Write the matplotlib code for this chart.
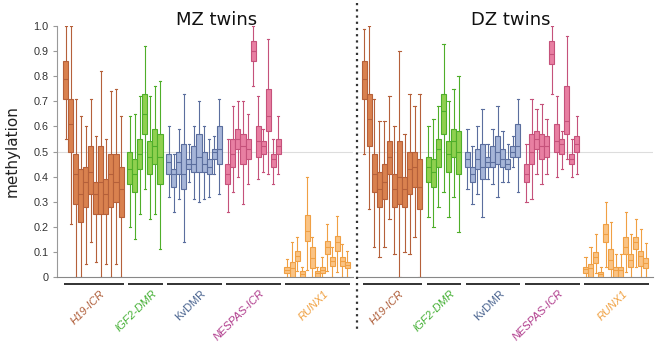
import matplotlib
matplotlib.use('Agg')
import matplotlib.pyplot as plt
from matplotlib.lines import Line2D

# box stats per CpG site: (whisker low, q1, median, q3, whisker high)
genes = ['H19-ICR', 'IGF2-DMR', 'KvDMR', 'NESPAS-ICR', 'RUNX1']
panel_titles = ['MZ twins', 'DZ twins']

mz_h19 = [[0.55, 0.71, 0.79, 0.86, 1.00], [0.21, 0.50, 0.61, 0.71, 1.00], [0.00, 0.29, 0.41, 0.49, 0.71],
          [0.00, 0.22, 0.33, 0.43, 0.64], [0.05, 0.28, 0.38, 0.44, 0.60], [0.14, 0.33, 0.42, 0.52, 0.71],
          [0.06, 0.25, 0.33, 0.38, 0.56], [0.00, 0.25, 0.38, 0.52, 0.82], [0.05, 0.25, 0.33, 0.39, 0.55],
          [0.00, 0.28, 0.41, 0.49, 0.74], [0.05, 0.30, 0.38, 0.49, 0.75], [0.00, 0.24, 0.35, 0.44, 0.64]]
mz_igf2 = [[0.20, 0.37, 0.43, 0.50, 0.64], [0.15, 0.34, 0.41, 0.47, 0.65], [0.25, 0.43, 0.49, 0.55, 0.72],
           [0.35, 0.57, 0.65, 0.73, 0.92], [0.23, 0.41, 0.48, 0.54, 0.72], [0.25, 0.45, 0.52, 0.59, 0.76],
           [0.11, 0.37, 0.48, 0.57, 0.78]]
mz_kv = [[0.32, 0.41, 0.46, 0.49, 0.60], [0.26, 0.36, 0.41, 0.43, 0.49], [0.31, 0.41, 0.46, 0.50, 0.59],
         [0.14, 0.35, 0.41, 0.53, 0.73], [0.38, 0.43, 0.45, 0.47, 0.53], [0.31, 0.42, 0.45, 0.52, 0.60],
         [0.30, 0.42, 0.48, 0.57, 0.70], [0.31, 0.42, 0.45, 0.50, 0.60], [0.32, 0.41, 0.44, 0.47, 0.55],
         [0.41, 0.47, 0.50, 0.51, 0.56], [0.33, 0.45, 0.51, 0.60, 0.71]]
mz_nes = [[0.26, 0.37, 0.41, 0.45, 0.55], [0.34, 0.44, 0.49, 0.55, 0.68], [0.40, 0.51, 0.55, 0.59, 0.70],
          [0.29, 0.45, 0.52, 0.57, 0.70], [0.37, 0.47, 0.51, 0.55, 0.65], [0.76, 0.86, 0.90, 0.94, 1.00],
          [0.39, 0.48, 0.54, 0.60, 0.72], [0.42, 0.49, 0.52, 0.54, 0.59], [0.41, 0.58, 0.64, 0.75, 0.95],
          [0.37, 0.44, 0.47, 0.49, 0.55], [0.41, 0.49, 0.52, 0.55, 0.64]]
mz_runx = [[0.00, 0.015, 0.028, 0.041, 0.072], [0.00, 0.00, 0.035, 0.061, 0.14], [0.024, 0.064, 0.084, 0.104, 0.16],
           [0.00, 0.00, 0.012, 0.024, 0.041], [0.028, 0.143, 0.183, 0.247, 0.40], [0.00, 0.037, 0.077, 0.121, 0.16],
           [0.00, 0.00, 0.015, 0.024, 0.041], [0.00, 0.015, 0.028, 0.041, 0.081], [0.024, 0.092, 0.118, 0.143, 0.21],
           [0.00, 0.044, 0.064, 0.081, 0.121], [0.021, 0.104, 0.141, 0.163, 0.243], [0.00, 0.042, 0.062, 0.081, 0.13],
           [0.00, 0.035, 0.046, 0.061, 0.105]]

dz_h19 = [[0.49, 0.71, 0.79, 0.86, 0.99], [0.27, 0.52, 0.63, 0.73, 1.00], [0.12, 0.34, 0.41, 0.49, 0.71],
          [0.08, 0.28, 0.35, 0.42, 0.62], [0.12, 0.31, 0.38, 0.45, 0.62], [0.23, 0.41, 0.48, 0.54, 0.72],
          [0.09, 0.28, 0.35, 0.41, 0.60], [0.00, 0.29, 0.40, 0.54, 0.90], [0.10, 0.28, 0.35, 0.40, 0.57],
          [0.09, 0.33, 0.43, 0.50, 0.73], [0.16, 0.36, 0.44, 0.50, 0.68], [0.00, 0.27, 0.36, 0.47, 0.73]]
dz_igf2 = [[0.24, 0.38, 0.44, 0.48, 0.60], [0.20, 0.36, 0.42, 0.47, 0.63], [0.28, 0.44, 0.51, 0.55, 0.68],
           [0.34, 0.57, 0.66, 0.73, 0.93], [0.24, 0.42, 0.49, 0.54, 0.70], [0.32, 0.48, 0.54, 0.59, 0.75],
           [0.18, 0.41, 0.50, 0.58, 0.80]]
dz_kv = [[0.35, 0.44, 0.47, 0.50, 0.59], [0.29, 0.38, 0.41, 0.44, 0.52], [0.33, 0.43, 0.47, 0.51, 0.60],
         [0.24, 0.39, 0.44, 0.53, 0.67], [0.39, 0.44, 0.46, 0.48, 0.53], [0.37, 0.44, 0.46, 0.52, 0.59],
         [0.32, 0.45, 0.50, 0.56, 0.68], [0.38, 0.44, 0.47, 0.51, 0.58], [0.38, 0.43, 0.45, 0.47, 0.53],
         [0.44, 0.48, 0.50, 0.52, 0.56], [0.34, 0.48, 0.52, 0.61, 0.71]]
dz_nes = [[0.30, 0.38, 0.41, 0.45, 0.53], [0.31, 0.45, 0.50, 0.57, 0.71], [0.41, 0.51, 0.55, 0.58, 0.67],
          [0.37, 0.47, 0.52, 0.57, 0.69], [0.41, 0.48, 0.52, 0.56, 0.63], [0.73, 0.85, 0.89, 0.94, 1.00],
          [0.40, 0.50, 0.54, 0.61, 0.72], [0.43, 0.49, 0.53, 0.55, 0.58], [0.47, 0.57, 0.62, 0.76, 0.96],
          [0.40, 0.45, 0.47, 0.49, 0.55], [0.41, 0.50, 0.53, 0.56, 0.64]]
dz_runx = [[0.00, 0.015, 0.03, 0.041, 0.081], [0.00, 0.00, 0.035, 0.05, 0.121], [0.015, 0.054, 0.081, 0.10, 0.17],
           [0.00, 0.00, 0.01, 0.02, 0.041], [0.04, 0.141, 0.17, 0.21, 0.30], [0.00, 0.033, 0.066, 0.11, 0.22],
           [0.00, 0.00, 0.027, 0.04, 0.09], [0.00, 0.00, 0.027, 0.04, 0.09], [0.02, 0.09, 0.12, 0.16, 0.26],
           [0.00, 0.04, 0.066, 0.09, 0.17], [0.04, 0.11, 0.14, 0.16, 0.23], [0.00, 0.044, 0.084, 0.104, 0.19],
           [0.00, 0.034, 0.054, 0.074, 0.134]]

face_cols = ['#d9814f', '#8fd04f', '#a6b5d8', '#e87fa2', '#fac384']
edge_cols = ['#b5603a', '#4fae2a', '#5b6e9e', '#c5527b', '#f0a044']
label_cols = ['#b0603c', '#45b035', '#4a6490', '#b03b8c', '#f0a040']
label_italic = [True, True, False, True, True]

panels = [[mz_h19, mz_igf2, mz_kv, mz_nes, mz_runx],
          [dz_h19, dz_igf2, dz_kv, dz_nes, dz_runx]]

W, H = 660, 345
fig = plt.figure(figsize=(6.6, 3.45), dpi=100)
plt.rcParams['font.family'] = ['DejaVu Sans']


def px_axes(x0, x1, ytop, ybot):
    return fig.add_axes([x0 / W, 1 - ybot / H, (x1 - x0) / W, (ybot - ytop) / H])


axL = px_axes(57, 353, 26, 277)
axR = px_axes(358, 653, 26, 277)
gap = 1.75

for p, ax in enumerate([axL, axR]):
    pos = 0.0
    for g, rows in enumerate(panels[p]):
        start = pos
        for i, r in enumerate(rows):
            st = dict(whislo=r[0], q1=r[1], med=r[2], q3=r[3], whishi=r[4], fliers=[])
            ax.bxp([st], positions=[pos], widths=1.0, patch_artist=True, showfliers=False,
                   boxprops=dict(facecolor=face_cols[g], edgecolor=edge_cols[g], linewidth=0.8),
                   medianprops=dict(color=edge_cols[g], linewidth=0.8),
                   whiskerprops=dict(color=edge_cols[g], linewidth=0.8),
                   capprops=dict(color=edge_cols[g], linewidth=0.8),
                   capwidths=0.45, zorder=3 + 0.3 * (pos + 1), manage_ticks=False)
            pos += 1
        end = pos - 1
        # group underline and label
        ax.plot([start - 0.35, end + 0.55], [-0.027, -0.027], color='#222222', lw=1.3,
                clip_on=False, solid_capstyle='butt')
        ax.text((start + end) / 2 + 1.3, -0.046, genes[g], rotation=45, rotation_mode='anchor',
                ha='right', va='top', fontsize=8, color=label_cols[g],
                style='italic' if label_italic[g] else 'normal', family='Liberation Sans')
        pos = end + gap
    ax.axhline(0.5, color='#dddddd', lw=0.8, zorder=1)
    ax.set_ylim(0, 1.0)
    ax.spines['top'].set_visible(False)
    ax.spines['right'].set_visible(False)
    ax.spines['bottom'].set_color('#888888')
    ax.set_xticks([])
    ax.patch.set_alpha(0)

axL.set_xlim(-1.73, 57.12)
axR.set_xlim(-1.25, 57.4)
axL.spines['left'].set_color('#999999')
axL.set_yticks([i / 10 for i in range(11)])
axL.set_yticklabels(['0'] + ['%.1f' % (i / 10) for i in range(1, 11)], fontsize=7.8, color='#333333',
                    family='Liberation Sans')
axL.tick_params(axis='y', length=3, color='#999999', pad=3)
axL.set_ylabel('methylation', fontsize=11, color='#222222', labelpad=10)
axR.spines['left'].set_visible(False)
axR.set_yticks([])

fig.text(217 / W, 1 - 25 / H, panel_titles[0], ha='center', va='baseline', fontsize=13, color='#111111')
fig.text(511 / W, 1 - 25 / H, panel_titles[1], ha='center', va='baseline', fontsize=13, color='#111111')

fig.add_artist(Line2D([357 / W, 357 / W], [1 - 3 / H, 1 - 330 / H], transform=fig.transFigure,
                      color='#333333', lw=1.6, linestyle=(0, (1, 1.8))))

fig.savefig('out.png', dpi=100)
